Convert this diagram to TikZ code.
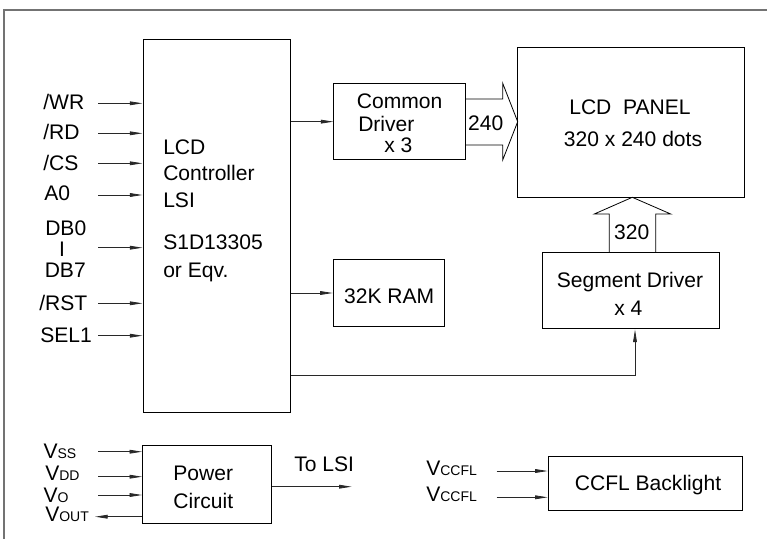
\documentclass[tikz,border=0pt]{standalone}
\usepackage{fontspec}
\setmainfont{Liberation Sans}
\usepackage{tikz}
\usetikzlibrary{arrows.meta,positioning}
\definecolor{wirecol}{RGB}{40,40,40}
\newcommand{\smallsub}[1]{{\fontsize{10.5}{12}\selectfont #1}}

\begin{document}
\begin{tikzpicture}[x=0.75pt,y=-0.75pt,font=\fontsize{15.8}{19}\selectfont,
      blk/.style={draw=black,line width=0.75pt,inner sep=0pt},
      sig/.style={draw=wirecol,line width=0.6pt,-{Triangle[length=9.5pt,width=2.8pt]}},
      fat/.style={draw=black,line width=0.6pt,line join=miter},
      txt/.style={inner sep=0pt,anchor=base},
      lft/.style={inner sep=0pt,anchor=base west}]
    \useasboundingbox (0,0) rectangle (767,539);
    % frame
    \draw[draw=black!55,line width=0.8pt] (767,10) -- (4,10) -- (4,539);

    % blocks
    \node[blk,minimum width=110.25pt,minimum height=279.75pt] (ctrl)  at (216.5,225.5) {};
    \node[blk,minimum width=98.8pt,minimum height=57.5pt]     (cdrv)  at (399.85,121.65) {};
    \node[blk,minimum width=170pt,minimum height=112.2pt]     (panel) at (631,122.5) {};
    \node[blk,minimum width=132.5pt,minimum height=57.5pt]    (sdrv)  at (631,290.65) {};
    \node[blk,minimum width=83.25pt,minimum height=50.5pt]    (ram)   at (388.8,293) {};
    \node[blk,minimum width=96.75pt,minimum height=58.2pt]    (pwr)   at (207.2,484.5) {};
    \node[blk,minimum width=145.8pt,minimum height=40.5pt]    (ccfl)  at (645.5,483) {};

    % block texts
    \node[lft] (lcd)  at (163,154.5) {LCD};
    \node[lft] (ctl)  at (163,180.5) {Controller};
    \node[lft] (lsi)  at (163,207.5) {LSI};
    \node[lft] (chip) at (163,249)   {S1D13305};
    \node[lft] (eqv)  at (163,277.5) {or Eqv.};
    \node[lft] (cmn)  at (356.7,108.5) {Common};
    \node[lft] (drv)  at (358,131.5)   {Driver};
    \node[lft] (cx)   at (384,152.7)   {x 3};
    \node[txt] (pnl)  at (630,114.2) {LCD\ \ PANEL};
    \node[txt] (dots) at (633,146.5) {320 x 240 dots};
    \node[txt] (sgt)  at (630,287)   {Segment Driver};
    \node[txt] (sx)   at (628.3,315) {x 4};
    \node[txt] (rtxt) at (389.2,303.3) {32K RAM};
    \node[txt] (pw)   at (203.3,480)   {Power};
    \node[txt] (cir)  at (203.3,508.3) {Circuit};
    \node[txt] (btxt) at (648,490.5)   {CCFL Backlight};

    % controller inputs
    \node[lft] (wr)  at (43,109.5)  {/WR};
    \node[lft] (rd)  at (43,139.5)  {/RD};
    \node[lft] (cs)  at (43,170)    {/CS};
    \node[lft] (a0)  at (44,200.7)  {A0};
    \node[lft] (db0) at (45,235)    {DB0};
    \node[txt] (bar) at (62,256)    {I};
    \node[lft] (db7) at (44.5,277.3) {DB7};
    \node[lft] (rst) at (39,310.7)  {/RST};
    \node[lft] (sel) at (40,342.7)  {SEL1};
    \coordinate (wrin)  at (98,103.3);
    \coordinate (rdin)  at (98,133.3);
    \coordinate (csin)  at (98,163.3);
    \coordinate (a0in)  at (98,195);
    \coordinate (dbin)  at (98,247.7);
    \coordinate (rstin) at (98,303.3);
    \coordinate (selin) at (98,335.7);
    \draw[sig] (wrin)  -- (wrin -| ctrl.west);
    \draw[sig] (rdin)  -- (rdin -| ctrl.west);
    \draw[sig] (csin)  -- (csin -| ctrl.west);
    \draw[sig] (a0in)  -- (a0in -| ctrl.west);
    \draw[sig] (dbin)  -- (dbin -| ctrl.west);
    \draw[sig] (rstin) -- (rstin -| ctrl.west);
    \draw[sig] (selin) -- (selin -| ctrl.west);

    % controller outputs
    \draw[sig] (ctrl.east |- cdrv.west) -- (cdrv.west);
    \draw[sig] (ctrl.east |- ram.west) -- (ram.west);
    \coordinate (feed) at (635,375);
    \draw[sig] (ctrl.east |- feed) -- (feed) -- (feed |- sdrv.south);

    % bus arrows
    \draw[fat] (465.7,99) -- (502.7,99) -- (502.7,83.3) -- (517.7,121.7)
               -- (502.7,160) -- (502.7,145) -- (465.7,145);
    \node[txt] (n240) at (485.7,130.3) {240};
    \draw[fat] (609.3,252.3) -- (609.3,214) -- (594.3,214) -- (632.3,197.3)
               -- (670.7,214) -- (655.7,214) -- (655.7,252.3);
    \node[txt] (n320) at (631.7,239.3) {320};

    % power circuit
    \node[lft] (vss)  at (43.3,458)  {V\smallsub{SS}};
    \node[lft] (vdd)  at (45,480.7)  {V\smallsub{DD}};
    \node[lft] (vo)   at (43.3,502.7) {V\smallsub{O}};
    \node[lft] (vout) at (45,521.7)  {V\smallsub{OUT}};
    \coordinate (vssin)  at (98,451.7);
    \coordinate (vddin)  at (98,476.7);
    \coordinate (voin)   at (98,495);
    \coordinate (voutend) at (95,516.7);
    \draw[sig] (vssin) -- (vssin -| pwr.west);
    \draw[sig] (vddin) -- (vddin -| pwr.west);
    \draw[sig] (voin)  -- (voin -| pwr.west);
    \draw[sig] (voutend -| pwr.west) -- (voutend);
    \node[txt] (tolsi) at (324.2,471.7) {To LSI};
    \coordinate (lsiend) at (351.7,486.7);
    \draw[sig] (lsiend -| pwr.east) -- (lsiend);

    % backlight
    \node[lft] (vc1) at (426,475)   {V\smallsub{CCFL}};
    \node[lft] (vc2) at (426,501.7) {V\smallsub{CCFL}};
    \coordinate (cc1in) at (496.7,471);
    \coordinate (cc2in) at (496.7,497.3);
    \draw[sig] (cc1in) -- (cc1in -| ccfl.west);
    \draw[sig] (cc2in) -- (cc2in -| ccfl.west);
  \end{tikzpicture}
\end{document}
